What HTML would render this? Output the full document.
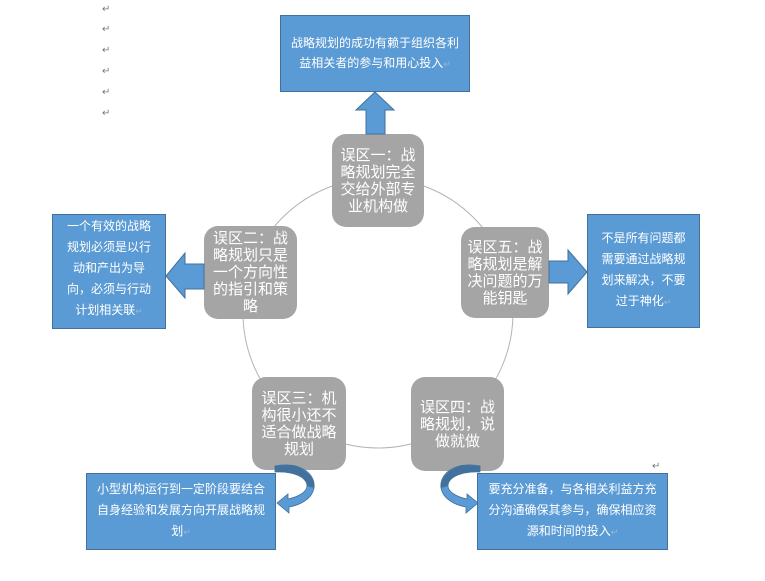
<!DOCTYPE html>
<html><head><meta charset="utf-8">
<style>
html,body{margin:0;padding:0;background:#fff;}
body{width:765px;height:581px;position:relative;overflow:hidden;font-family:"Liberation Sans","Noto Sans CJK SC",sans-serif;}
svg{position:absolute;left:0;top:0;}
.t{position:absolute;display:flex;align-items:center;justify-content:center;text-align:center;color:#fff;font-family:"Liberation Sans","Noto Sans CJK SC",sans-serif;}
.t>div{width:100%;}
.g{font-size:15px;line-height:17px;}
.b{font-size:12px;line-height:21px;}
.r{color:#9fb6cc;font-size:9px;font-family:"DejaVu Sans",sans-serif;}
.m{position:absolute;left:102px;font-size:10px;color:#777;font-family:"DejaVu Sans",sans-serif;line-height:10px;}
</style></head>
<body>
<div class="m" style="top:5px">↵</div>
<div class="m" style="top:25px">↵</div>
<div class="m" style="top:46px">↵</div>
<div class="m" style="top:67px">↵</div>
<div class="m" style="top:88px">↵</div>
<div class="m" style="top:109px">↵</div>
<div class="m" style="top:462px;left:652px">↵</div>

<svg width="765" height="581" viewBox="0 0 765 581">
  <circle cx="378" cy="313" r="135" fill="none" stroke="#b4b4b4" stroke-width="1"/>
  <rect x="332" y="134" width="92" height="93" rx="14" fill="#a5a5a5"/>
  <rect x="204" y="226" width="93" height="93" rx="14" fill="#a5a5a5"/>
  <rect x="461" y="227" width="88" height="91" rx="14" fill="#a5a5a5"/>
  <rect x="252" y="377" width="94" height="93" rx="14" fill="#a5a5a5"/>
  <rect x="411" y="377" width="93" height="94" rx="14" fill="#a5a5a5"/>
  <rect x="280.5" y="15.5" width="189" height="76" fill="#5b9bd5" stroke="#41719c" stroke-width="1"/>
  <rect x="52.5" y="214.5" width="113" height="114" fill="#5b9bd5" stroke="#41719c" stroke-width="1"/>
  <rect x="587.5" y="214.5" width="112" height="113" fill="#5b9bd5" stroke="#41719c" stroke-width="1"/>
  <rect x="86.5" y="473.5" width="189" height="76" fill="#5b9bd5" stroke="#41719c" stroke-width="1"/>
  <rect x="477.5" y="473.5" width="190" height="76" fill="#5b9bd5" stroke="#41719c" stroke-width="1"/>
  <polygon points="375,92 394,110 385,110 385,134 366,134 366,110 356,110" fill="#5b9bd5" stroke="#41719c" stroke-width="1"/>
  <polygon points="166,276 185,253 185,264 204,264 204,289 185,289 185,298" fill="#5b9bd5" stroke="#41719c" stroke-width="1"/>
  <polygon points="587,272 568,250 568,261 549,261 549,283 568,283 568,294" fill="#5b9bd5" stroke="#41719c" stroke-width="1"/>
  <g>
    <path d="M 275 466 C 300 461, 316 474, 314 488 C 312 499, 300 505, 289 507 L 289 513 L 277 503 L 288 494 L 288 499 C 298 497, 307 492, 307 486 C 307 477, 296 471, 275 472 Z" fill="#5b9bd5" stroke="#41719c" stroke-width="0.8"/>
    <path d="M 275 466 L 293 465 C 308 470, 315 479, 314 488 L 307 486 C 306 478, 296 472, 275 472 Z" fill="#41719c"/>
  </g>
  <g transform="translate(755,0) scale(-1,1)">
    <path d="M 275 466 C 300 461, 316 474, 314 488 C 312 499, 300 505, 289 507 L 289 513 L 277 503 L 288 494 L 288 499 C 298 497, 307 492, 307 486 C 307 477, 296 471, 275 472 Z" fill="#5b9bd5" stroke="#41719c" stroke-width="0.8"/>
    <path d="M 275 466 L 293 465 C 308 470, 315 479, 314 488 L 307 486 C 306 478, 296 472, 275 472 Z" fill="#41719c"/>
  </g>
</svg>

<div class="t g" style="left:332px;top:134px;width:92px;height:93px;"><div>误区一：战<br>略规划完全<br>交给外部专<br>业机构做</div></div>
<div class="t g" style="left:204px;top:226px;width:93px;height:93px;"><div>误区二：战<br>略规划只是<br>一个方向性<br>的指引和策<br>略</div></div>
<div class="t g" style="left:461px;top:227px;width:88px;height:91px;"><div>误区五：战<br>略规划是解<br>决问题的万<br>能钥匙</div></div>
<div class="t g" style="left:252px;top:377px;width:94px;height:93px;"><div>误区三：机<br>构很小还不<br>适合做战略<br>规划</div></div>
<div class="t g" style="left:411px;top:377px;width:93px;height:94px;"><div>误区四：战<br>略规划，说<br>做就做</div></div>

<div class="t b" style="left:280px;top:15px;width:190px;height:77px;line-height:20px;"><div>战略规划的成功有赖于组织各利<br>益相关者的参与和用心投入<span class="r">↵</span></div></div>
<div class="t b" style="left:52px;top:212px;width:114px;height:115px;"><div>一个有效的战略<br>规划必须是以行<br>动和产出为导<br>向，必须与行动<br>计划相关联<span class="r">↵</span></div></div>
<div class="t b" style="left:587px;top:214px;width:113px;height:114px;"><div>不是所有问题都<br>需要通过战略规<br>划来解决，不要<br>过于神化<span class="r">↵</span></div></div>
<div class="t b" style="left:86px;top:473px;width:190px;height:77px;"><div>小型机构运行到一定阶段要结合<br>自身经验和发展方向开展战略规<br>划<span class="r">↵</span></div></div>
<div class="t b" style="left:477px;top:473px;width:191px;height:77px;"><div>要充分准备，与各相关利益方充<br>分沟通确保其参与，确保相应资<br>源和时间的投入<span class="r">↵</span></div></div>
</body></html>
